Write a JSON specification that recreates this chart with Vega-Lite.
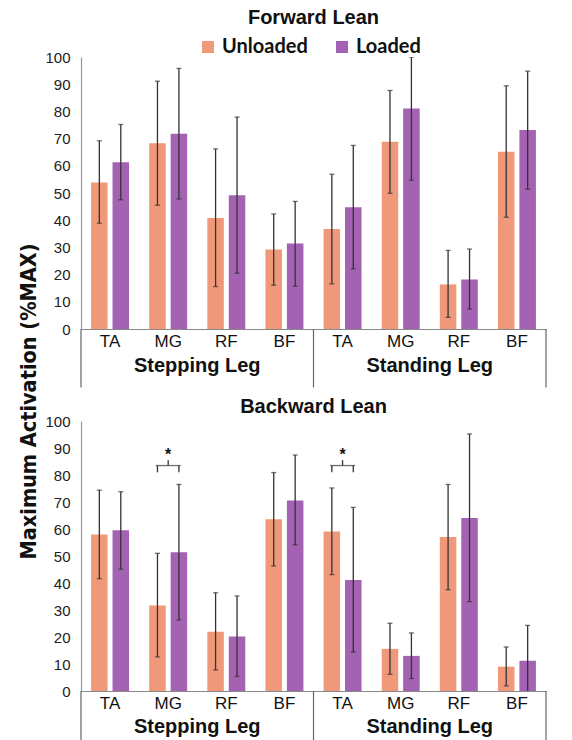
{
  "$schema": "https://vega.github.io/schema/vega-lite/v6.json",
  "padding": {"left": 18, "top": 8, "right": 5, "bottom": 0},
  "background": "white",
  "spacing": 92,
  "bounds": "flush",
  "config": {
    "view": {"stroke": null},
    "font": "Liberation Sans",
    "axisY": {"labelOverlap": false}
  },
  "datasets": {
    "forward": [
      {"key": "S-TA", "cond": "Unloaded", "mean": 53.9, "lo": 38.9, "hi": 69.2},
      {"key": "S-TA", "cond": "Loaded", "mean": 61.3, "lo": 47.5, "hi": 75.2},
      {"key": "S-MG", "cond": "Unloaded", "mean": 68.3, "lo": 45.5, "hi": 91.1},
      {"key": "S-MG", "cond": "Loaded", "mean": 71.8, "lo": 47.8, "hi": 95.8},
      {"key": "S-RF", "cond": "Unloaded", "mean": 40.8, "lo": 15.6, "hi": 66.2},
      {"key": "S-RF", "cond": "Loaded", "mean": 49.2, "lo": 20.5, "hi": 77.9},
      {"key": "S-BF", "cond": "Unloaded", "mean": 29.2, "lo": 16.1, "hi": 42.3},
      {"key": "S-BF", "cond": "Loaded", "mean": 31.4, "lo": 15.7, "hi": 46.9},
      {"key": "T-TA", "cond": "Unloaded", "mean": 36.8, "lo": 16.6, "hi": 56.9},
      {"key": "T-TA", "cond": "Loaded", "mean": 44.8, "lo": 22.1, "hi": 67.5},
      {"key": "T-MG", "cond": "Unloaded", "mean": 68.8, "lo": 49.9, "hi": 87.7},
      {"key": "T-MG", "cond": "Loaded", "mean": 81.1, "lo": 54.7, "hi": 100},
      {"key": "T-RF", "cond": "Unloaded", "mean": 16.4, "lo": 4.3, "hi": 28.9},
      {"key": "T-RF", "cond": "Loaded", "mean": 18.2, "lo": 7.3, "hi": 29.4},
      {"key": "T-BF", "cond": "Unloaded", "mean": 65.2, "lo": 41.1, "hi": 89.4},
      {"key": "T-BF", "cond": "Loaded", "mean": 73.2, "lo": 51.4, "hi": 94.8}
    ],
    "backward": [
      {"key": "S-TA", "cond": "Unloaded", "mean": 58.0, "lo": 41.6, "hi": 74.4},
      {"key": "S-TA", "cond": "Loaded", "mean": 59.5, "lo": 45.1, "hi": 73.8},
      {"key": "S-MG", "cond": "Unloaded", "mean": 31.7, "lo": 12.6, "hi": 51.0},
      {"key": "S-MG", "cond": "Loaded", "mean": 51.4, "lo": 26.3, "hi": 76.5},
      {"key": "S-RF", "cond": "Unloaded", "mean": 21.9, "lo": 7.8, "hi": 36.4},
      {"key": "S-RF", "cond": "Loaded", "mean": 20.2, "lo": 5.4, "hi": 35.2},
      {"key": "S-BF", "cond": "Unloaded", "mean": 63.6, "lo": 46.3, "hi": 80.9},
      {"key": "S-BF", "cond": "Loaded", "mean": 70.6, "lo": 54.1, "hi": 87.4},
      {"key": "T-TA", "cond": "Unloaded", "mean": 59.1, "lo": 43.1, "hi": 75.2},
      {"key": "T-TA", "cond": "Loaded", "mean": 41.1, "lo": 14.4, "hi": 68.0},
      {"key": "T-MG", "cond": "Unloaded", "mean": 15.6, "lo": 6.2, "hi": 25.1},
      {"key": "T-MG", "cond": "Loaded", "mean": 13.0, "lo": 4.6, "hi": 21.5},
      {"key": "T-RF", "cond": "Unloaded", "mean": 57.0, "lo": 37.5, "hi": 76.5},
      {"key": "T-RF", "cond": "Loaded", "mean": 64.1, "lo": 33.1, "hi": 95.2},
      {"key": "T-BF", "cond": "Unloaded", "mean": 9.0, "lo": 1.9, "hi": 16.3},
      {"key": "T-BF", "cond": "Loaded", "mean": 11.2, "lo": -1.9, "hi": 24.3}
    ],
    "sepsStart": [{"key": "S-TA"}, {"key": "T-TA"}],
    "sepsEnd": [{"key": "T-BF"}],
    "legs": [{"key": "S-MG", "leg": "Stepping Leg"}, {"key": "T-MG", "leg": "Standing Leg"}],
    "brackets": [
      {"key": "S-MG", "cond": "Unloaded", "sig": "*"},
      {"key": "S-MG", "cond": "Loaded", "sig": "*"},
      {"key": "T-TA", "cond": "Unloaded", "sig": "*"},
      {"key": "T-TA", "cond": "Loaded", "sig": "*"}
    ]
  },
  "vconcat": [
    {
      "width": 465,
      "height": 272,
      "title": {"text": "Forward Lean", "fontSize": 20, "font": "Liberation Sans", "fontWeight": "bold", "color": "#111", "anchor": "middle", "offset": 22},
      "layer": [
        {
          "data": {"name": "forward"},
          "mark": {"type": "bar"},
          "encoding": {
            "x": {"field": "key", "type": "nominal", "scale": {"domain": ["S-TA", "S-MG", "S-RF", "S-BF", "T-TA", "T-MG", "T-RF", "T-BF"], "paddingInner": 0, "paddingOuter": 0},
              "axis": {"title": null, "ticks": false, "labelAngle": 0, "labelExpr": "slice(datum.label, 2)", "labelFontSize": 17, "labelFont": "Liberation Sans", "labelColor": "#111", "labelPadding": 4, "domainColor": "#888", "domainWidth": 1.2}},
            "xOffset": {"field": "cond", "type": "nominal", "scale": {"domain": ["Unloaded", "Loaded"], "paddingInner": 0.23, "paddingOuter": 0.47}},
            "y": {"field": "mean", "type": "quantitative", "scale": {"domain": [0, 100]},
              "axis": {"title": "Maximum Activation (%MAX)", "values": [0, 10, 20, 30, 40, 50, 60, 70, 80, 90, 100], "labelOverlap": false, "grid": false, "ticks": false, "labelPadding": 11, "labelFontSize": 15, "labelFont": "Liberation Sans", "labelColor": "#222", "domainColor": "#999", "domainWidth": 1.2,
                "titleFont": "'Liberation Sans Narrow', 'DejaVu Sans Condensed', sans-serif", "titleFontSize": 21.5, "titleFontWeight": "bold", "titleColor": "#111", "titleX": -52, "titleY": 344, "titleAngle": -90, "titleAlign": "center", "titleBaseline": "middle"}},
            "color": {"field": "cond", "type": "nominal", "scale": {"domain": ["Unloaded", "Loaded"], "range": ["#F0997A", "#A463B2"]},
              "legend": {"orient": "none", "legendX": 117, "legendY": -20, "direction": "horizontal", "title": null, "symbolType": "square", "symbolSize": 144, "symbolStrokeWidth": 0, "labelFont": "Lato", "labelFontWeight": "bold", "labelFontSize": 20, "labelColor": "#111", "columnPadding": 24, "labelOffset": 4}}
          }
        },
        {
          "data": {"name": "forward"},
          "mark": {"type": "rule", "color": "#333", "strokeWidth": 1.3, "clip": true},
          "encoding": {
            "x": {"field": "key", "type": "nominal", "scale": {"domain": ["S-TA", "S-MG", "S-RF", "S-BF", "T-TA", "T-MG", "T-RF", "T-BF"], "paddingInner": 0, "paddingOuter": 0}},
            "xOffset": {"field": "cond", "type": "nominal", "scale": {"domain": ["Unloaded", "Loaded"], "paddingInner": 0.23, "paddingOuter": 0.47}},
            "y": {"field": "lo", "type": "quantitative", "scale": {"domain": [0, 100]}, "axis": {"values": [0, 10, 20, 30, 40, 50, 60, 70, 80, 90, 100], "labelOverlap": false}},
            "y2": {"field": "hi"}
          }
        },
        {
          "data": {"name": "forward"},
          "mark": {"type": "tick", "color": "#333", "size": 5, "thickness": 1.3, "clip": true},
          "encoding": {
            "x": {"field": "key", "type": "nominal", "scale": {"domain": ["S-TA", "S-MG", "S-RF", "S-BF", "T-TA", "T-MG", "T-RF", "T-BF"], "paddingInner": 0, "paddingOuter": 0}},
            "xOffset": {"field": "cond", "type": "nominal", "scale": {"domain": ["Unloaded", "Loaded"], "paddingInner": 0.23, "paddingOuter": 0.47}},
            "y": {"field": "lo", "type": "quantitative", "scale": {"domain": [0, 100]}, "axis": {"values": [0, 10, 20, 30, 40, 50, 60, 70, 80, 90, 100], "labelOverlap": false}}
          }
        },
        {
          "data": {"name": "forward"},
          "mark": {"type": "tick", "color": "#333", "size": 5, "thickness": 1.3, "clip": true},
          "encoding": {
            "x": {"field": "key", "type": "nominal", "scale": {"domain": ["S-TA", "S-MG", "S-RF", "S-BF", "T-TA", "T-MG", "T-RF", "T-BF"], "paddingInner": 0, "paddingOuter": 0}},
            "xOffset": {"field": "cond", "type": "nominal", "scale": {"domain": ["Unloaded", "Loaded"], "paddingInner": 0.23, "paddingOuter": 0.47}},
            "y": {"field": "hi", "type": "quantitative", "scale": {"domain": [0, 100]}, "axis": {"values": [0, 10, 20, 30, 40, 50, 60, 70, 80, 90, 100], "labelOverlap": false}}
          }
        },
        {
          "data": {"name": "sepsStart"},
          "mark": {"type": "rule", "color": "#666", "strokeWidth": 1.2},
          "encoding": {
            "x": {"field": "key", "type": "nominal", "bandPosition": 0, "scale": {"domain": ["S-TA", "S-MG", "S-RF", "S-BF", "T-TA", "T-MG", "T-RF", "T-BF"], "paddingInner": 0, "paddingOuter": 0}},
            "y": {"datum": 0, "type": "quantitative", "scale": {"domain": [0, 100]}, "axis": {"values": [0, 10, 20, 30, 40, 50, 60, 70, 80, 90, 100], "labelOverlap": false}},
            "y2": {"datum": -21.5}
          }
        },
        {
          "data": {"name": "sepsEnd"},
          "mark": {"type": "rule", "color": "#666", "strokeWidth": 1.2},
          "encoding": {
            "x": {"field": "key", "type": "nominal", "bandPosition": 1, "scale": {"domain": ["S-TA", "S-MG", "S-RF", "S-BF", "T-TA", "T-MG", "T-RF", "T-BF"], "paddingInner": 0, "paddingOuter": 0}},
            "y": {"datum": 0, "type": "quantitative", "scale": {"domain": [0, 100]}, "axis": {"values": [0, 10, 20, 30, 40, 50, 60, 70, 80, 90, 100], "labelOverlap": false}},
            "y2": {"datum": -21.5}
          }
        },
        {
          "data": {"name": "legs"},
          "mark": {"type": "text", "fontSize": 20, "fontWeight": "bold", "font": "Liberation Sans", "color": "#111", "baseline": "middle", "align": "center"},
          "encoding": {
            "x": {"field": "key", "type": "nominal", "bandPosition": 1, "scale": {"domain": ["S-TA", "S-MG", "S-RF", "S-BF", "T-TA", "T-MG", "T-RF", "T-BF"], "paddingInner": 0, "paddingOuter": 0}},
            "y": {"datum": -13.5, "type": "quantitative", "scale": {"domain": [0, 100]}, "axis": {"values": [0, 10, 20, 30, 40, 50, 60, 70, 80, 90, 100], "labelOverlap": false}},
            "text": {"field": "leg"}
          }
        }
      ]
    },
    {
      "width": 465,
      "height": 270,
      "title": {"text": "Backward Lean", "fontSize": 20, "font": "Liberation Sans", "fontWeight": "bold", "color": "#111", "anchor": "middle", "offset": -3},
      "layer": [
        {
          "data": {"name": "backward"},
          "mark": {"type": "bar"},
          "encoding": {
            "x": {"field": "key", "type": "nominal", "scale": {"domain": ["S-TA", "S-MG", "S-RF", "S-BF", "T-TA", "T-MG", "T-RF", "T-BF"], "paddingInner": 0, "paddingOuter": 0},
              "axis": {"title": null, "ticks": false, "labelAngle": 0, "labelExpr": "slice(datum.label, 2)", "labelFontSize": 17, "labelFont": "Liberation Sans", "labelColor": "#111", "labelPadding": 4, "domainColor": "#888", "domainWidth": 1.2}},
            "xOffset": {"field": "cond", "type": "nominal", "scale": {"domain": ["Unloaded", "Loaded"], "paddingInner": 0.23, "paddingOuter": 0.47}},
            "y": {"field": "mean", "type": "quantitative", "scale": {"domain": [0, 100]},
              "axis": {"title": null, "values": [0, 10, 20, 30, 40, 50, 60, 70, 80, 90, 100], "labelOverlap": false, "grid": false, "ticks": false, "labelPadding": 11, "labelFontSize": 15, "labelFont": "Liberation Sans", "labelColor": "#222", "domainColor": "#999", "domainWidth": 1.2}},
            "color": {"field": "cond", "type": "nominal", "scale": {"domain": ["Unloaded", "Loaded"], "range": ["#F0997A", "#A463B2"]}}
          }
        },
        {
          "data": {"name": "backward"},
          "mark": {"type": "rule", "color": "#333", "strokeWidth": 1.3, "clip": true},
          "encoding": {
            "x": {"field": "key", "type": "nominal", "scale": {"domain": ["S-TA", "S-MG", "S-RF", "S-BF", "T-TA", "T-MG", "T-RF", "T-BF"], "paddingInner": 0, "paddingOuter": 0}},
            "xOffset": {"field": "cond", "type": "nominal", "scale": {"domain": ["Unloaded", "Loaded"], "paddingInner": 0.23, "paddingOuter": 0.47}},
            "y": {"field": "lo", "type": "quantitative", "scale": {"domain": [0, 100]}, "axis": {"values": [0, 10, 20, 30, 40, 50, 60, 70, 80, 90, 100], "labelOverlap": false}},
            "y2": {"field": "hi"}
          }
        },
        {
          "data": {"name": "backward"},
          "mark": {"type": "tick", "color": "#333", "size": 5, "thickness": 1.3, "clip": true},
          "encoding": {
            "x": {"field": "key", "type": "nominal", "scale": {"domain": ["S-TA", "S-MG", "S-RF", "S-BF", "T-TA", "T-MG", "T-RF", "T-BF"], "paddingInner": 0, "paddingOuter": 0}},
            "xOffset": {"field": "cond", "type": "nominal", "scale": {"domain": ["Unloaded", "Loaded"], "paddingInner": 0.23, "paddingOuter": 0.47}},
            "y": {"field": "lo", "type": "quantitative", "scale": {"domain": [0, 100]}, "axis": {"values": [0, 10, 20, 30, 40, 50, 60, 70, 80, 90, 100], "labelOverlap": false}}
          }
        },
        {
          "data": {"name": "backward"},
          "mark": {"type": "tick", "color": "#333", "size": 5, "thickness": 1.3, "clip": true},
          "encoding": {
            "x": {"field": "key", "type": "nominal", "scale": {"domain": ["S-TA", "S-MG", "S-RF", "S-BF", "T-TA", "T-MG", "T-RF", "T-BF"], "paddingInner": 0, "paddingOuter": 0}},
            "xOffset": {"field": "cond", "type": "nominal", "scale": {"domain": ["Unloaded", "Loaded"], "paddingInner": 0.23, "paddingOuter": 0.47}},
            "y": {"field": "hi", "type": "quantitative", "scale": {"domain": [0, 100]}, "axis": {"values": [0, 10, 20, 30, 40, 50, 60, 70, 80, 90, 100], "labelOverlap": false}}
          }
        },
        {
          "data": {"name": "brackets"},
          "mark": {"type": "rule", "color": "#333", "strokeWidth": 1.3},
          "encoding": {
            "x": {"field": "key", "type": "nominal", "scale": {"domain": ["S-TA", "S-MG", "S-RF", "S-BF", "T-TA", "T-MG", "T-RF", "T-BF"], "paddingInner": 0, "paddingOuter": 0}},
            "xOffset": {"field": "cond", "type": "nominal", "scale": {"domain": ["Unloaded", "Loaded"], "paddingInner": 0.23, "paddingOuter": 0.47}},
            "y": {"datum": 81, "type": "quantitative", "scale": {"domain": [0, 100]}, "axis": {"values": [0, 10, 20, 30, 40, 50, 60, 70, 80, 90, 100], "labelOverlap": false}},
            "y2": {"datum": 83.5}
          }
        },
        {
          "data": {"name": "brackets"},
          "transform": [{"filter": "datum.cond === 'Unloaded'"}],
          "mark": {"type": "tick", "color": "#333", "size": 25, "thickness": 1.3},
          "encoding": {
            "x": {"field": "key", "type": "nominal", "scale": {"domain": ["S-TA", "S-MG", "S-RF", "S-BF", "T-TA", "T-MG", "T-RF", "T-BF"], "paddingInner": 0, "paddingOuter": 0}},
            "y": {"datum": 83.5, "type": "quantitative", "scale": {"domain": [0, 100]}, "axis": {"values": [0, 10, 20, 30, 40, 50, 60, 70, 80, 90, 100], "labelOverlap": false}}
          }
        },
        {
          "data": {"name": "brackets"},
          "transform": [{"filter": "datum.cond === 'Unloaded'"}],
          "mark": {"type": "rule", "color": "#333", "strokeWidth": 1.3},
          "encoding": {
            "x": {"field": "key", "type": "nominal", "scale": {"domain": ["S-TA", "S-MG", "S-RF", "S-BF", "T-TA", "T-MG", "T-RF", "T-BF"], "paddingInner": 0, "paddingOuter": 0}},
            "y": {"datum": 83.5, "type": "quantitative", "scale": {"domain": [0, 100]}, "axis": {"values": [0, 10, 20, 30, 40, 50, 60, 70, 80, 90, 100], "labelOverlap": false}},
            "y2": {"datum": 85.5}
          }
        },
        {
          "data": {"name": "brackets"},
          "transform": [{"filter": "datum.cond === 'Unloaded'"}],
          "mark": {"type": "text", "fontSize": 16, "fontWeight": "bold", "font": "Liberation Sans", "color": "#111", "baseline": "middle", "align": "center", "dy": 3},
          "encoding": {
            "x": {"field": "key", "type": "nominal", "scale": {"domain": ["S-TA", "S-MG", "S-RF", "S-BF", "T-TA", "T-MG", "T-RF", "T-BF"], "paddingInner": 0, "paddingOuter": 0}},
            "y": {"datum": 88.5, "type": "quantitative", "scale": {"domain": [0, 100]}, "axis": {"values": [0, 10, 20, 30, 40, 50, 60, 70, 80, 90, 100], "labelOverlap": false}},
            "text": {"field": "sig"}
          }
        },
        {
          "data": {"name": "sepsStart"},
          "mark": {"type": "rule", "color": "#666", "strokeWidth": 1.2},
          "encoding": {
            "x": {"field": "key", "type": "nominal", "bandPosition": 0, "scale": {"domain": ["S-TA", "S-MG", "S-RF", "S-BF", "T-TA", "T-MG", "T-RF", "T-BF"], "paddingInner": 0, "paddingOuter": 0}},
            "y": {"datum": 0, "type": "quantitative", "scale": {"domain": [0, 100]}, "axis": {"values": [0, 10, 20, 30, 40, 50, 60, 70, 80, 90, 100], "labelOverlap": false}},
            "y2": {"datum": -21.5}
          }
        },
        {
          "data": {"name": "sepsEnd"},
          "mark": {"type": "rule", "color": "#666", "strokeWidth": 1.2},
          "encoding": {
            "x": {"field": "key", "type": "nominal", "bandPosition": 1, "scale": {"domain": ["S-TA", "S-MG", "S-RF", "S-BF", "T-TA", "T-MG", "T-RF", "T-BF"], "paddingInner": 0, "paddingOuter": 0}},
            "y": {"datum": 0, "type": "quantitative", "scale": {"domain": [0, 100]}, "axis": {"values": [0, 10, 20, 30, 40, 50, 60, 70, 80, 90, 100], "labelOverlap": false}},
            "y2": {"datum": -21.5}
          }
        },
        {
          "data": {"name": "legs"},
          "mark": {"type": "text", "fontSize": 20, "fontWeight": "bold", "font": "Liberation Sans", "color": "#111", "baseline": "middle", "align": "center"},
          "encoding": {
            "x": {"field": "key", "type": "nominal", "bandPosition": 1, "scale": {"domain": ["S-TA", "S-MG", "S-RF", "S-BF", "T-TA", "T-MG", "T-RF", "T-BF"], "paddingInner": 0, "paddingOuter": 0}},
            "y": {"datum": -13.5, "type": "quantitative", "scale": {"domain": [0, 100]}, "axis": {"values": [0, 10, 20, 30, 40, 50, 60, 70, 80, 90, 100], "labelOverlap": false}},
            "text": {"field": "leg"}
          }
        }
      ]
    }
  ]
}
